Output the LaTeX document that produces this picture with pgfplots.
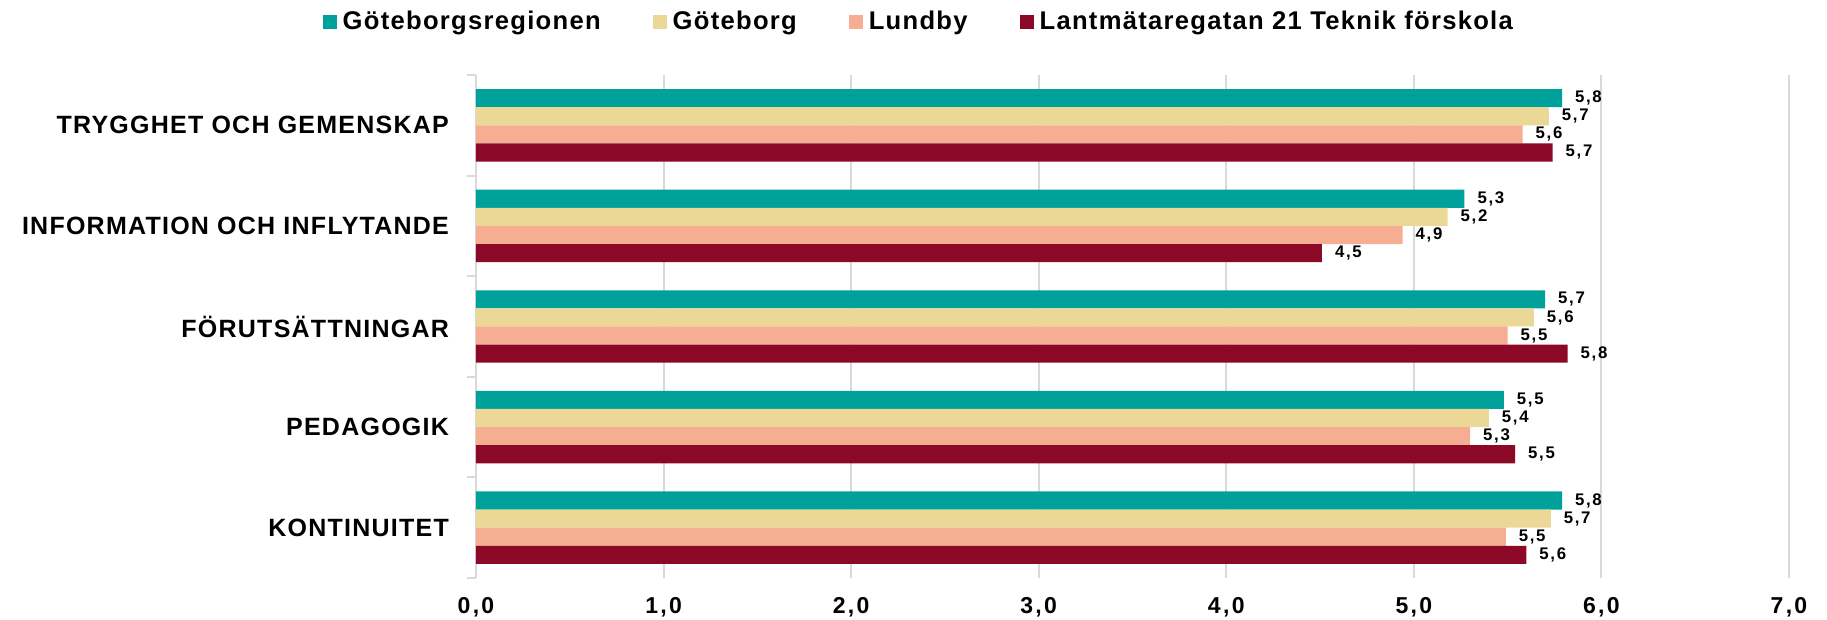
\documentclass[border=0pt]{standalone}
\usepackage{fontspec}
\setmainfont{Liberation Sans}
\newfontfamily\lblfont[LetterSpace=5]{Liberation Sans}
\newfontfamily\numfont[LetterSpace=10]{Liberation Sans}
\usepackage{pgfplots}
\pgfplotsset{compat=1.18}
\definecolor{cTeal}{RGB}{0,161,154}
\definecolor{cYellow}{RGB}{236,216,150}
\definecolor{cSalmon}{RGB}{245,174,145}
\definecolor{cRed}{RGB}{139,8,38}
\definecolor{cGrid}{RGB}{217,217,217}
\begin{document}
\begin{tikzpicture}
\begin{axis}[
  scale only axis,
  width=656.5pt, height=251.5pt,
  xbar, bar width=0.18,
  xmin=0, xmax=7, ymin=-0.5, ymax=4.5,
  axis lines*=left,
  x axis line style={draw=none},
  y axis line style={draw=cGrid, line width=1pt, -},
  xmajorgrids, grid style={draw=cGrid, line width=1pt},
  xtick={0,1,2,3,4,5,6,7},
  major tick length=0pt,
  xticklabel style={font=\numfont\bfseries\fontsize{11.5}{13}\selectfont, yshift=-6pt},
  /pgf/number format/.cd, fixed, fixed zerofill, precision=1, use comma, assume math mode=true,
  /pgfplots/.cd,
  ytick={0,1,2,3,4},
  yticklabels={KONTINUITET, PEDAGOGIK, FÖRUTSÄTTNINGAR, INFORMATION OCH INFLYTANDE, TRYGGHET OCH GEMENSKAP},
  yticklabel style={font=\lblfont\bfseries\fontsize{12.5}{14}\selectfont, xshift=-10pt},
  extra y ticks={-0.5,0.5,1.5,2.5,3.5,4.5},
  extra y tick labels={},
  extra y tick style={grid=none, major tick length=4.5pt, tick align=outside, tick style={draw=cGrid, line width=1pt}},
  point meta=x,
  nodes near coords={\pgfmathprintnumber[fixed, fixed zerofill, precision=1, use comma, assume math mode=true]{\pgfplotspointmeta}},
  nodes near coords style={font=\numfont\bfseries\fontsize{8.4}{9}\selectfont, anchor=west, xshift=3pt, text=black},
  legend columns=4,
  legend style={draw=none, fill=none, at={(0.338,1.105)}, anchor=center,
    font=\lblfont\bfseries\fontsize{12.8}{14}\selectfont,
    /tikz/every odd column/.append style={column sep=1pt},
    /tikz/every even column/.append style={column sep=24pt},
    inner sep=0pt},
  legend image code/.code={\fill[#1] (0pt,-3.5pt) rectangle (7pt,3.5pt);},
]
\addplot+[bar shift=0.27, fill=cTeal, draw=none] coordinates {(5.79,4) (5.27,3) (5.70,2) (5.48,1) (5.79,0)};
\addlegendentry{Göteborgsregionen}
\addplot+[bar shift=0.09, fill=cYellow, draw=none] coordinates {(5.72,4) (5.18,3) (5.64,2) (5.40,1) (5.73,0)};
\addlegendentry{Göteborg}
\addplot+[bar shift=-0.09, fill=cSalmon, draw=none] coordinates {(5.58,4) (4.94,3) (5.50,2) (5.30,1) (5.49,0)};
\addlegendentry{Lundby}
\addplot+[bar shift=-0.27, fill=cRed, draw=none] coordinates {(5.74,4) (4.51,3) (5.82,2) (5.54,1) (5.60,0)};
\addlegendentry{Lantmätaregatan 21 Teknik förskola}
\end{axis}
\pgfresetboundingbox
\path[use as bounding box] (-238pt,-21pt) rectangle (675.5pt,289pt);
\end{tikzpicture}
\end{document}
